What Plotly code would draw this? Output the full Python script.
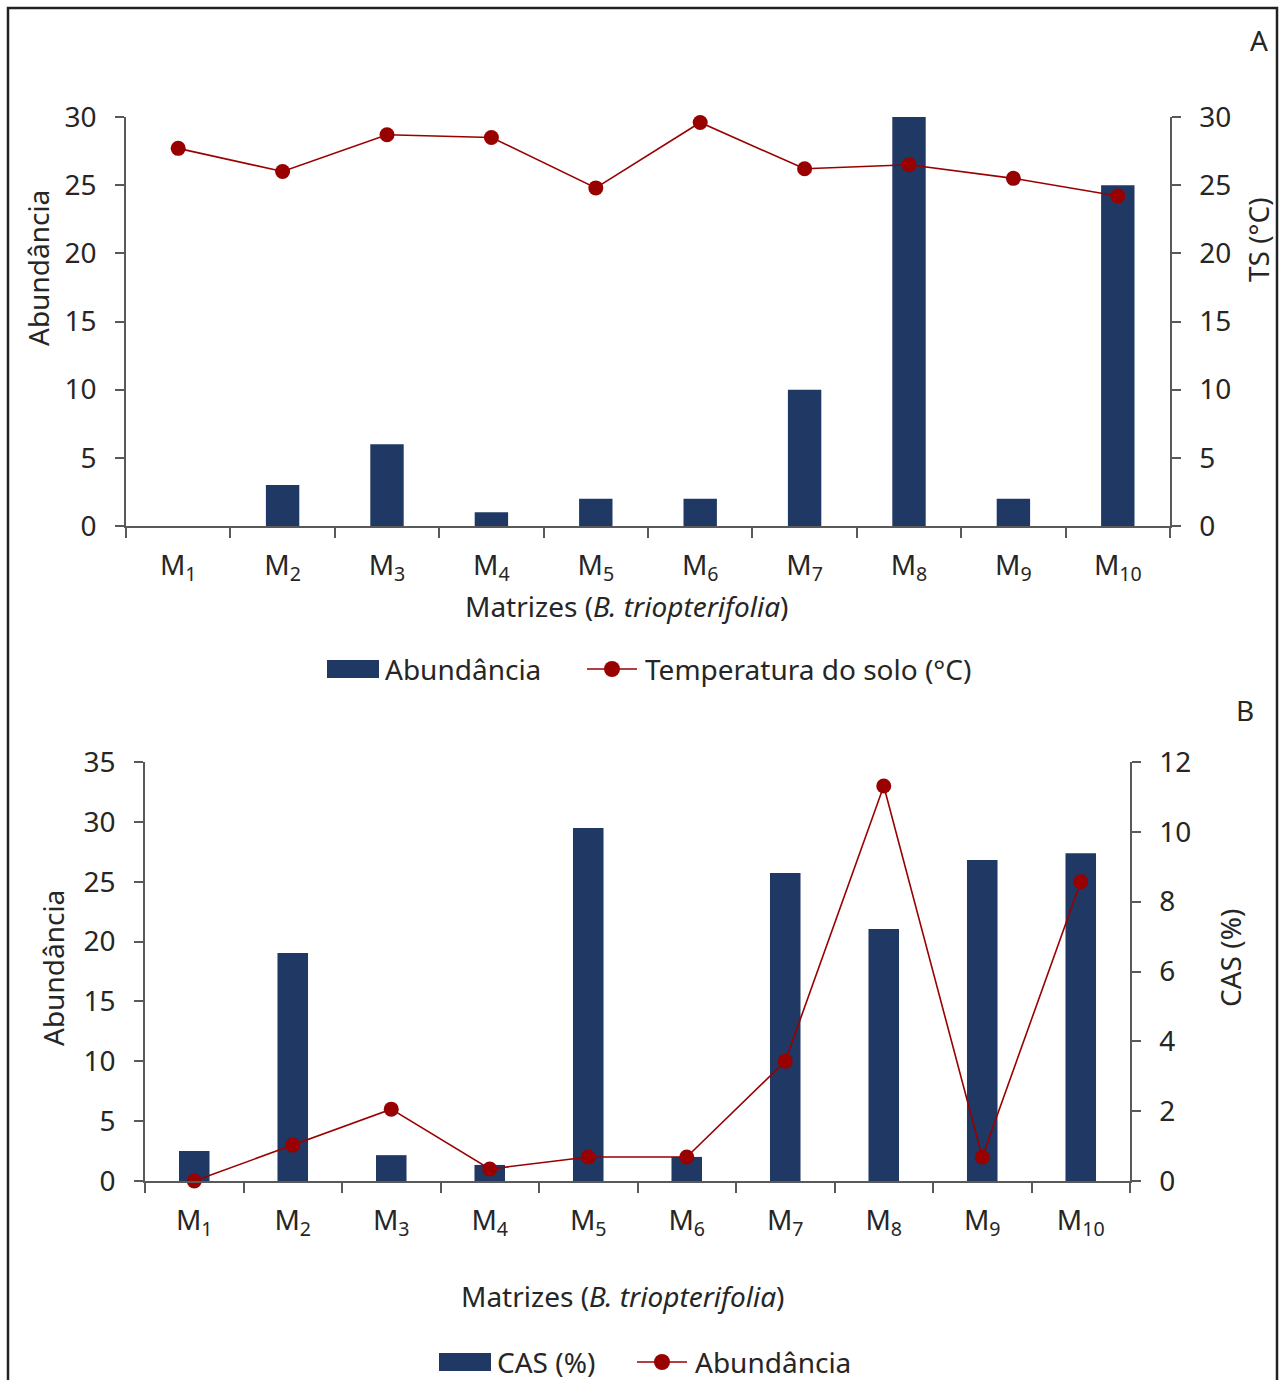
import plotly.graph_objects as go

W, H = 1280, 1380

# ---- data -------------------------------------------------------------
matrizes = ["M1", "M2", "M3", "M4", "M5", "M6", "M7", "M8", "M9", "M10"]
rotulos = ["M<sub>1</sub>", "M<sub>2</sub>", "M<sub>3</sub>", "M<sub>4</sub>",
           "M<sub>5</sub>", "M<sub>6</sub>", "M<sub>7</sub>", "M<sub>8</sub>",
           "M<sub>9</sub>", "M<sub>10</sub>"]

# Panel A
abundancia_a = [0, 3, 6, 1, 2, 2, 10, 30, 2, 25]
temperatura_solo = [27.7, 26.0, 28.7, 28.5, 24.8, 29.6, 26.2, 26.5, 25.5, 24.2]

# Panel B
cas_pct = [0.86, 6.53, 0.74, 0.46, 10.11, 0.69, 8.82, 7.22, 9.19, 9.39]
abundancia_b = [0, 3, 6, 1, 2, 2, 10, 33, 2, 25]

# ---- style ------------------------------------------------------------
NAVY = "#203864"
RED = "#990000"
AXIS = "#595959"
TEXT = "#262626"
FONT = "Noto Sans"
FS = 28


def px(x):
    return x / W


def py(y):
    return 1 - y / H


fig = go.Figure()

fig.add_trace(go.Bar(x=matrizes, y=abundancia_a, xaxis="x", yaxis="y",
                     width=0.32, marker=dict(color=NAVY, line=dict(width=0)),
                     name="Abundância", showlegend=False))
fig.add_trace(go.Scatter(x=matrizes, y=temperatura_solo, xaxis="x", yaxis="y2",
                         mode="lines+markers", cliponaxis=False,
                         line=dict(color=RED, width=1.6),
                         marker=dict(color=RED, size=15),
                         name="Temperatura do solo (°C)", showlegend=False))

fig.add_trace(go.Bar(x=matrizes, y=cas_pct, xaxis="x2", yaxis="y3",
                     width=0.31, marker=dict(color=NAVY, line=dict(width=0)),
                     name="CAS (%)", showlegend=False))
fig.add_trace(go.Scatter(x=matrizes, y=abundancia_b, xaxis="x2", yaxis="y4",
                         mode="lines+markers", cliponaxis=False,
                         line=dict(color=RED, width=1.6),
                         marker=dict(color=RED, size=15),
                         name="Abundância", showlegend=False))

xcommon = dict(type="category", range=[-0.5, 9.5], tickson="boundaries",
               ticks="outside", ticklen=10, tickwidth=1.5, tickcolor=AXIS,
               showline=True, linecolor=AXIS, linewidth=1.5, showgrid=False,
               tickvals=matrizes, ticktext=rotulos, ticklabelstandoff=14,
               automargin=False,
               tickfont=dict(family=FONT, size=FS, color=TEXT))
ycommon = dict(ticks="outside", ticklen=9, tickwidth=1.5, tickcolor=AXIS,
               showline=True, linecolor=AXIS, linewidth=1.5, showgrid=False,
               zeroline=False, ticklabelstandoff=13, automargin=False,
               tickfont=dict(family=FONT, size=FS, color=TEXT))

fig.update_layout(
    width=W, height=H, autosize=False,
    margin=dict(l=0, r=0, t=0, b=0, pad=0, autoexpand=False),
    paper_bgcolor="white", plot_bgcolor="rgba(0,0,0,0)",
    font=dict(family=FONT, size=FS, color=TEXT),
    showlegend=False,
    xaxis=dict(domain=[px(126), px(1170)], anchor="y", **xcommon),
    yaxis=dict(domain=[py(526), py(117)], anchor="x", side="left",
               range=[0, 30], dtick=5, **ycommon),
    yaxis2=dict(overlaying="y", anchor="x", side="right",
                range=[0, 30], dtick=5, **ycommon),
    xaxis2=dict(domain=[px(145), px(1130)], anchor="y3", **xcommon),
    yaxis3=dict(domain=[py(1181), py(762)], anchor="x2", side="right",
                range=[0, 12], dtick=2, **ycommon),
    yaxis4=dict(overlaying="y3", anchor="x2", side="left",
                range=[0, 35], dtick=5, **ycommon),
)

annotations = []


def label(text, x, y, xanchor="center", angle=0):
    annotations.append(dict(text=text, x=px(x), y=py(y), xref="paper",
                            yref="paper", xanchor=xanchor, yanchor="middle",
                            showarrow=False, textangle=angle,
                            font=dict(family=FONT, size=FS, color=TEXT)))


# axis titles and panel letters
label("Abundância", 38, 268, angle=-90)
label("TS (°C)", 1258, 240, angle=-90)
label("Matrizes (<i>B. triopterifolia</i>)", 626, 606)
label("A", 1259, 40)

label("Abundância", 53, 968, angle=-90)
label("CAS (%)", 1230, 958, angle=-90)
label("Matrizes (<i>B. triopterifolia</i>)", 622, 1296)
label("B", 1245, 710)

shapes = []

# outer frame
shapes.append(dict(type="rect", xref="paper", yref="paper",
                   x0=px(8), x1=px(1277), y0=py(1420), y1=py(8),
                   line=dict(color="#222222", width=2.5)))


def legend_bar(x, y, text):
    shapes.append(dict(type="rect", xref="paper", yref="paper",
                       x0=px(x), x1=px(x + 52), y0=py(y + 9), y1=py(y - 9),
                       fillcolor=NAVY, line=dict(width=0)))
    label(text, x + 56, y, xanchor="left")


def legend_line(x, y, text):
    shapes.append(dict(type="line", xref="paper", yref="paper",
                       x0=px(x), x1=px(x + 50), y0=py(y), y1=py(y),
                       line=dict(color=RED, width=1.6)))
    cx = x + 25
    shapes.append(dict(type="circle", xref="paper", yref="paper",
                       x0=px(cx - 8), x1=px(cx + 8), y0=py(y + 8), y1=py(y - 8),
                       fillcolor=RED, line=dict(width=0)))
    label(text, x + 56, y, xanchor="left")


legend_bar(327, 669, "Abundância")
legend_line(587, 669, "Temperatura do solo (°C)")
legend_bar(439, 1362, "CAS (%)")
legend_line(637, 1362, "Abundância")

fig.update_layout(annotations=annotations, shapes=shapes)

fig.write_html("out.html")
